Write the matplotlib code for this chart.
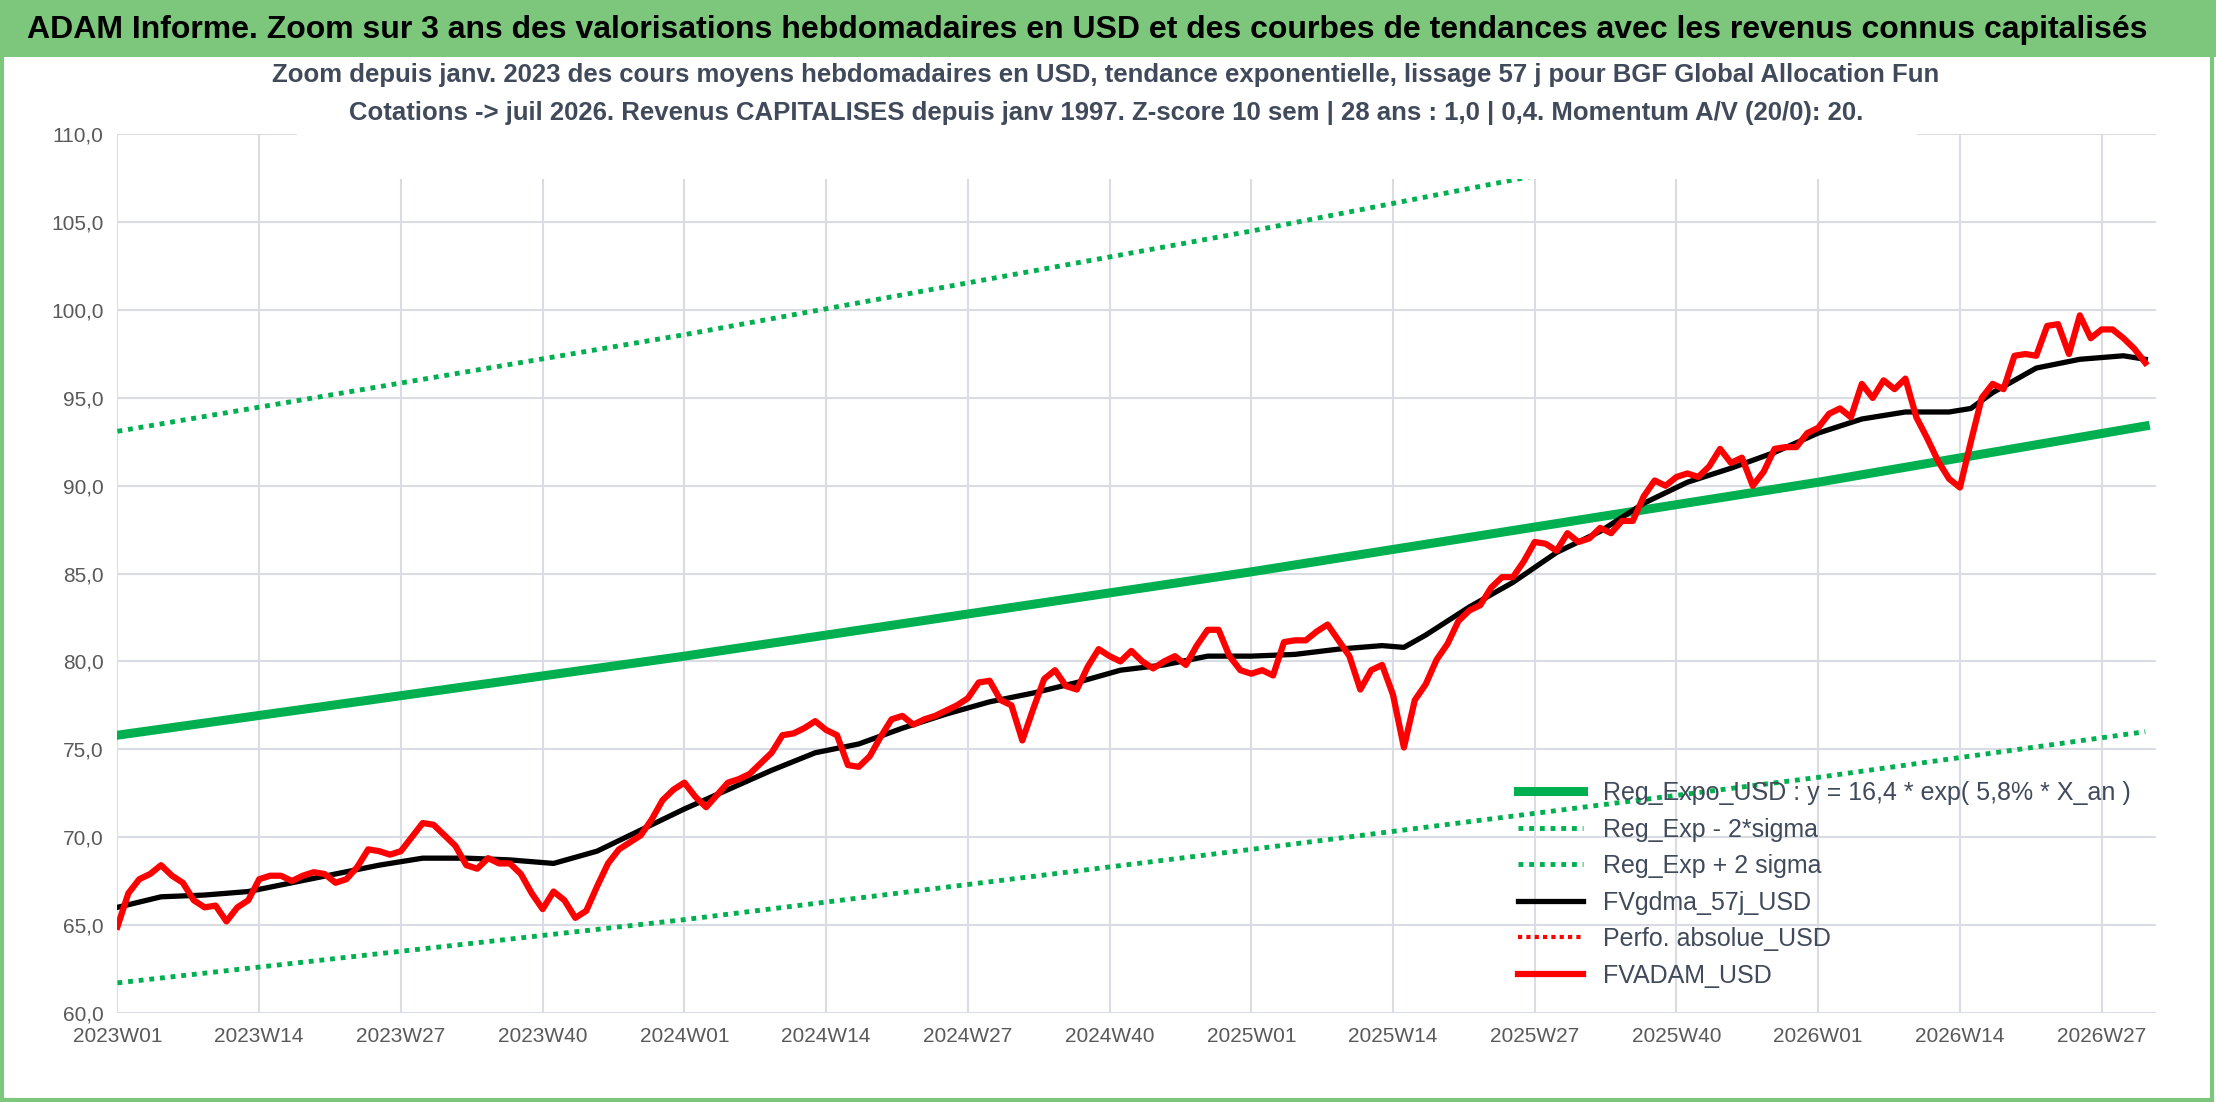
import numpy as np
import matplotlib
matplotlib.use("Agg")
import matplotlib.pyplot as plt
from matplotlib.patches import Rectangle

plt.rcParams["font.family"] = ["Liberation Sans", "DejaVu Sans"]

# FVADAM_USD, one value per week from 2023W01
fvadam = [64.9, 66.8, 67.6, 67.9, 68.4, 67.8, 67.4, 66.4, 66.0, 66.1,
          65.2, 66.0, 66.4, 67.6, 67.8, 67.8, 67.5, 67.8, 68.0, 67.9,
          67.4, 67.6, 68.3, 69.3, 69.2, 69.0, 69.2, 70.0, 70.8, 70.7,
          70.1, 69.5, 68.4, 68.2, 68.8, 68.5, 68.5, 67.9, 66.8, 65.9,
          66.9, 66.4, 65.4, 65.8, 67.2, 68.5, 69.3, 69.7, 70.1, 71.0,
          72.1, 72.7, 73.1, 72.3, 71.7, 72.4, 73.1, 73.3, 73.6, 74.2,
          74.8, 75.8, 75.9, 76.2, 76.6, 76.1, 75.8, 74.1, 74.0, 74.6,
          75.7, 76.7, 76.9, 76.4, 76.7, 76.9, 77.2, 77.5, 77.9, 78.8,
          78.9, 77.8, 77.5, 75.5, 77.3, 79.0, 79.5, 78.6, 78.4, 79.7,
          80.7, 80.3, 80.0, 80.6, 80.0, 79.6, 80.0, 80.3, 79.8, 80.9,
          81.8, 81.8, 80.3, 79.5, 79.3, 79.5, 79.2, 81.1, 81.2, 81.2,
          81.7, 82.1, 81.2, 80.3, 78.4, 79.5, 79.8, 78.1, 75.1, 77.8,
          78.7, 80.1, 81.0, 82.3, 82.9, 83.2, 84.2, 84.8, 84.8, 85.7,
          86.8, 86.7, 86.3, 87.3, 86.8, 87.0, 87.6, 87.3, 88.0, 88.0,
          89.4, 90.3, 90.0, 90.5, 90.7, 90.5, 91.1, 92.1, 91.3, 91.6,
          90.0, 90.8, 92.1, 92.2, 92.2, 93.0, 93.3, 94.1, 94.4, 93.9,
          95.8, 95.0, 96.0, 95.5, 96.1, 93.9, 92.7, 91.4, 90.4, 89.9,
          92.5, 95.0, 95.8, 95.5, 97.4, 97.5, 97.4, 99.1, 99.2, 97.5,
          99.7, 98.4, 98.9, 98.9, 98.4, 97.8, 97.0]

# FVgdma_57j_USD (week index, value)
ma_weeks = [0, 4, 8, 12, 16, 20, 24, 28, 32, 36, 40, 44, 48, 52, 56, 60, 64,
            68, 72, 76, 80, 84, 88, 92, 96, 100, 104, 108, 112, 116, 118, 120,
            124, 128, 132, 136, 140, 144, 148, 152, 156, 160, 164, 168, 170,
            172, 176, 180, 184, 186]
ma_vals = [66.0, 66.6, 66.7, 66.9, 67.4, 67.9, 68.4, 68.8, 68.8, 68.7, 68.5,
           69.2, 70.4, 71.6, 72.7, 73.8, 74.8, 75.3, 76.2, 77.0, 77.7, 78.2,
           78.8, 79.5, 79.8, 80.3, 80.3, 80.4, 80.7, 80.9, 80.8, 81.5, 83.1,
           84.5, 86.2, 87.4, 89.0, 90.2, 91.0, 91.9, 93.0, 93.8, 94.2, 94.2,
           94.4, 95.3, 96.7, 97.2, 97.4, 97.2]

# regression curves (week index, value)
reg_weeks = [0, 52, 104, 156, 186]
reg_expo = [75.8, 80.3, 85.1, 90.2, 93.4]
reg_low = [61.7, 65.3, 69.3, 73.4, 76.0]
reg_high = [93.1, 98.6, 104.5, 110.8, 114.7]

tick_labels = ["2023W01", "2023W14", "2023W27", "2023W40", "2024W01",
               "2024W14", "2024W27", "2024W40", "2025W01", "2025W14",
               "2025W27", "2025W40", "2026W01", "2026W14", "2026W27"]

txt = "#404a5a"
fig = plt.figure(figsize=(22.16, 11.02), dpi=100)

# header band and border
fig.patches.append(Rectangle((0, 0.948), 1, 0.052, transform=fig.transFigure,
                             facecolor="#7cc77c", edgecolor="none"))
fig.patches.append(Rectangle((0.001, 0.002), 0.997, 0.995, transform=fig.transFigure,
                             facecolor="none", edgecolor="#7cc77c", linewidth=3))
fig.text(0.012, 0.973, "ADAM Informe. Zoom sur 3 ans des valorisations hebdomadaires en USD "
         "et des courbes de tendances avec les revenus connus capitalisés",
         fontsize=23, fontweight="bold", va="center", ha="left", color="black")

ax = fig.add_axes([0.053, 0.081, 0.92, 0.797])
x = np.arange(len(fvadam))
ax.plot(reg_weeks, reg_expo, color="#00b050", lw=6.5,
        label="Reg_Expo_USD : y = 16,4 * exp( 5,8% * X_an )")
ax.plot(reg_weeks, reg_low, color="#00b050", lw=3.5, ls=(0, (1, 1.2)),
        label="Reg_Exp - 2*sigma")
ax.plot(reg_weeks, reg_high, color="#00b050", lw=3.5, ls=(0, (1, 1.2)),
        label="Reg_Exp + 2 sigma")
ax.plot(ma_weeks, ma_vals, color="black", lw=3.8, label="FVgdma_57j_USD")
ax.plot([], [], color="red", lw=3, ls=(0, (1, 1)), label="Perfo. absolue_USD")
ax.plot(x, fvadam, color="red", lw=4.5, label="FVADAM_USD")

ax.set_xlim(0, 187)
ax.set_ylim(60, 110)
ax.set_yticks(np.arange(60, 111, 5))
ax.set_yticklabels([f"{v:.1f}".replace(".", ",") for v in np.arange(60, 111, 5)])
ax.set_xticks(np.arange(0, 13 * len(tick_labels), 13))
ax.set_xticklabels(tick_labels)
ax.tick_params(labelsize=15, colors="#595959", length=0, pad=10)
ax.grid(True, color="#d9dde3", lw=1.5)
ax.set_axisbelow(True)
for s in ax.spines.values():
    s.set_visible(False)

# white box of the subtitle, covering the top of the plot
fig.patches.append(Rectangle((0.134, 0.838), 0.731, 0.11, transform=fig.transFigure,
                             facecolor="white", edgecolor="none", zorder=5))
sub = ("Zoom depuis janv. 2023 des cours moyens hebdomadaires en USD, tendance exponentielle, "
       "lissage 57 j pour BGF Global Allocation Fun\n"
       "Cotations -> juil 2026. Revenus CAPITALISES depuis janv 1997. Z-score 10 sem | 28 ans : "
       "1,0 | 0,4. Momentum A/V (20/0): 20.")
fig.text(0.499, 0.915, sub, ha="center", va="center", fontsize=18.5, fontweight="bold",
         color=txt, linespacing=1.75, zorder=6)

leg = ax.legend(loc="lower right", bbox_to_anchor=(1.0, 0.0), frameon=False,
                fontsize=18, handlelength=2.6, labelspacing=0.5, borderaxespad=0.6)
for t in leg.get_texts():
    t.set_color(txt)

fig.savefig("out.png", dpi=100)
